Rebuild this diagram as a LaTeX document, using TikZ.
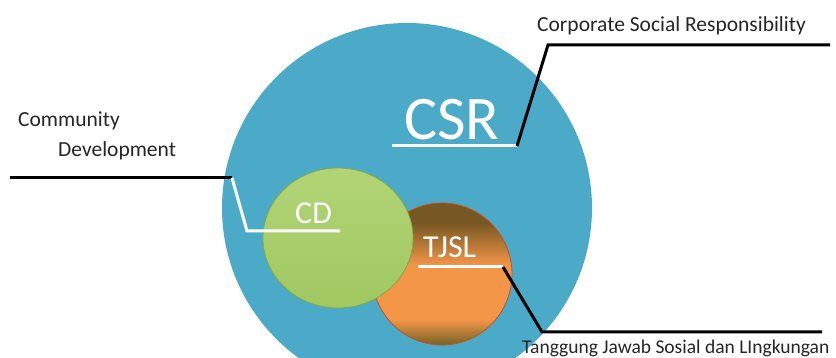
\documentclass[tikz,border=0pt]{standalone}
\usepackage{fontspec}
\setmainfont{Carlito}
\definecolor{tjdkt}{RGB}{120,88,34}
\definecolor{tjdkb}{RGB}{118,98,38}
\definecolor{tjor}{RGB}{243,150,72}
\definecolor{csrblue}{RGB}{75,170,200}
\pgfdeclareverticalshading{tjslshade}{100bp}{color(0bp)=(tjdkb); color(25bp)=(tjdkb); color(34bp)=(tjor); color(53bp)=(tjor); color(68bp)=(tjdkt); color(75bp)=(tjdkt); color(100bp)=(tjdkt)}
\begin{document}
\begin{tikzpicture}[x=1pt,y=-1pt,
  lbl/.style={inner sep=0pt,font=\fontsize{21.5}{24}\selectfont,text=black!85},
  inlbl/.style={inner sep=0pt,text=white},
  blk/.style={line width=3pt,black},
  wht/.style={line width=3pt,white},
]
\useasboundingbox (0,0) rectangle (836,358);
\clip (0,0) rectangle (836,358);
\fill[white] (0,0) rectangle (836,358);
% big CSR circle
\fill[csrblue] (407,208) circle[radius=185];
% TJSL circle
\shade[shading=tjslshade,draw={rgb,255:red,200;green,80;blue,30},line width=0.8pt]
  (442,274) ellipse[x radius=70,y radius=71];
% CD circle
\shade[top color={rgb,255:red,178;green,212;blue,118},bottom color={rgb,255:red,160;green,200;blue,96},draw={rgb,255:red,130;green,170;blue,70},line width=0.8pt]
  (338,238) ellipse[x radius=75,y radius=70];
% texts
\node[lbl,anchor=base west] (csrtext) at (537,32) {Corporate Social Responsibility};
\node[lbl,anchor=base west] (comm) at (18,127) {Community};
\node[lbl,anchor=base west] (dev) at (58,157) {Development};
\node[lbl,anchor=base west,font=\fontsize{19.5}{22}\selectfont] (tjsltext) at (522,353) {Tanggung Jawab Sosial dan LIngkungan};
\node[inlbl,anchor=base west,font=\fontsize{62}{64}\selectfont] (csr) at (404,140) {CSR};
\node[inlbl,anchor=base west,font=\fontsize{32}{34}\selectfont] (cd) at (295,224) {CD};
\node[inlbl,anchor=base west,font=\fontsize{32}{34}\selectfont] (tjsl) at (423,258) {TJSL};
% connector points
\coordinate (c1) at (392,146);
\coordinate (c2) at (517,146);
\coordinate (c3) at (548,45);
\coordinate (c4) at (830,45);
\coordinate (d1) at (10,178);
\coordinate (d2) at (232,178);
\coordinate (d3) at (247,231);
\coordinate (d4) at (340,231);
\coordinate (t1) at (418,267);
\coordinate (t2) at (503,267);
\coordinate (t3) at (542,332);
\coordinate (t4) at (822,332);
% connectors
\draw[wht] (c1) -- (c2);
\draw[blk,line join=miter] (c2) -- (c3) -- (c4);
\draw[blk] (d1) -- (d2);
\draw[wht,line join=miter] (d2) -- (d3) -- (d4);
\draw[wht] (t1) -- (t2);
\draw[blk,line join=miter] (t2) -- (t3) -- (t4);
\end{tikzpicture}
\end{document}
